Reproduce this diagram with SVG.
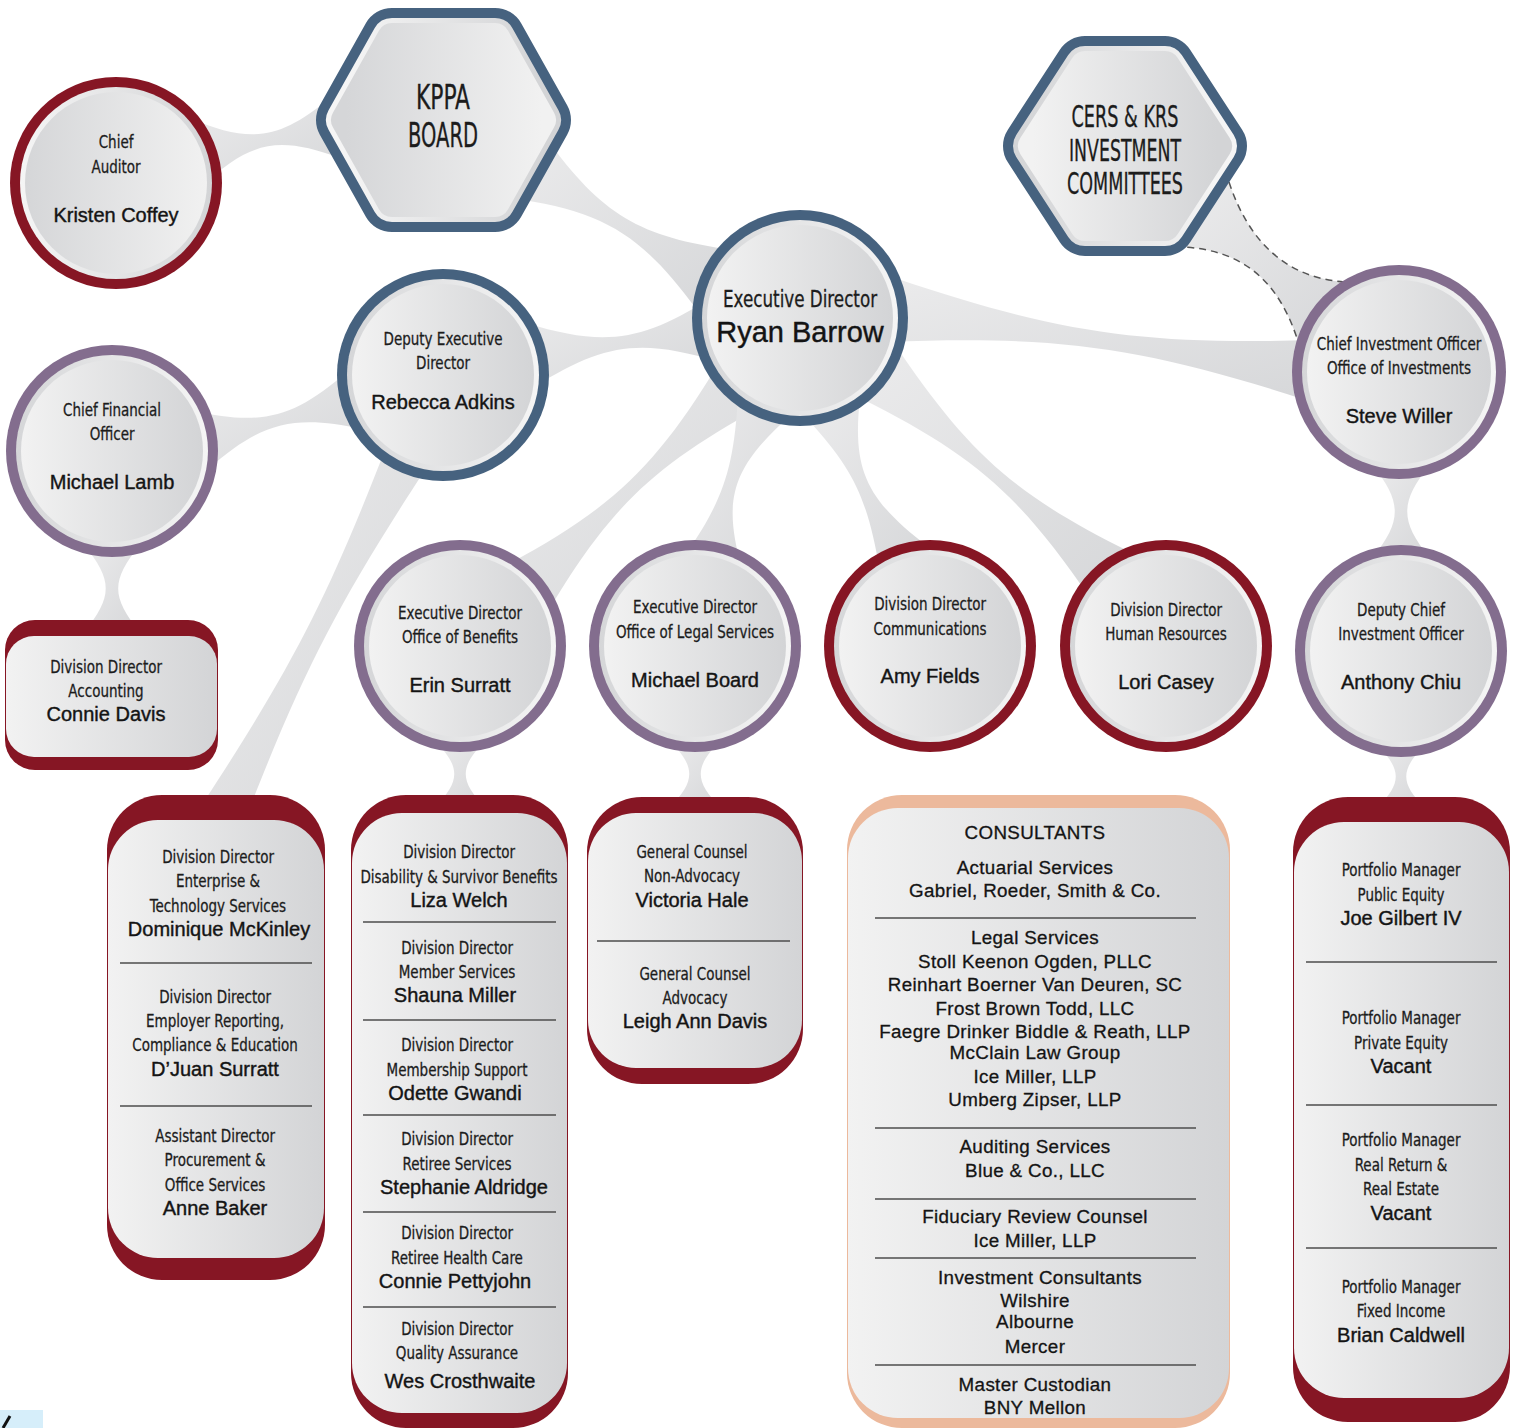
<svg xmlns="http://www.w3.org/2000/svg" width="1514" height="1428" viewBox="0 0 1514 1428">
<defs>
<linearGradient id="gFillA" x1="0" y1="0" x2="1" y2="0"><stop offset="0" stop-color="#f2f2f2"/><stop offset="1" stop-color="#d3d4d6"/></linearGradient>
<linearGradient id="gRimA" x1="0" y1="0" x2="1" y2="0"><stop offset="0" stop-color="#d5d6d8"/><stop offset="1" stop-color="#f5f5f5"/></linearGradient>
<linearGradient id="gFillB" x1="0" y1="0" x2="1" y2="0"><stop offset="0" stop-color="#d5d6d8"/><stop offset="1" stop-color="#f1f1f1"/></linearGradient>
<linearGradient id="gRimB" x1="0" y1="0" x2="1" y2="0"><stop offset="0" stop-color="#f5f5f5"/><stop offset="1" stop-color="#d3d4d6"/></linearGradient>
<linearGradient id="gConn" x1="0" y1="0" x2="1" y2="1"><stop offset="0" stop-color="#ebebec"/><stop offset="1" stop-color="#d6d7d9"/></linearGradient>
</defs>
<style>
.conn{fill:url(#gConn)}
.dash{fill:none;stroke:#555555;stroke-width:1.5;stroke-dasharray:7 5}
.blue{fill:#46627f}
.red{fill:#861624}
.purple{fill:#836d8e}
.peach{fill:#ecb99c}
.rimA{fill:url(#gRimA)}
.fillA{fill:url(#gFillA)}
.rimB{fill:url(#gRimB)}
.fillB{fill:url(#gFillB)}
.hexO{fill:#46627f;stroke:#46627f;stroke-width:60;stroke-linejoin:round}
.hexR{fill:url(#gRimB);stroke:url(#gRimB);stroke-width:40;stroke-linejoin:round}
.hexF{fill:url(#gFillB);stroke:url(#gFillB);stroke-width:30;stroke-linejoin:round}
.hexRA{fill:url(#gRimA);stroke:url(#gRimA);stroke-width:40;stroke-linejoin:round}
.hexFA{fill:url(#gFillA);stroke:url(#gFillA);stroke-width:30;stroke-linejoin:round}
.t{font-family:"Liberation Sans Narrow","DejaVu Sans Condensed","Roboto Condensed",sans-serif;font-stretch:condensed;font-size:18.5px;fill:#1c1c1c;stroke:#1c1c1c;stroke-width:0.3;text-anchor:middle;dominant-baseline:central;transform-box:fill-box;transform-origin:center;transform:scaleX(0.81)}
.big{font-size:23px}
.hx{font-size:34px;transform:none}
.hx2{font-size:30px;transform:none}
.n{font-family:"Liberation Sans",Arial,sans-serif;font-size:20px;fill:#141414;stroke:#141414;stroke-width:0.4;text-anchor:middle;dominant-baseline:central}
.nb{font-size:29px}
.c{font-family:"Liberation Sans",Arial,sans-serif;font-size:18.8px;letter-spacing:0.35px;fill:#141414;stroke:#141414;stroke-width:0.3;text-anchor:middle;dominant-baseline:central}
.sep{stroke:#4d4d4d;stroke-width:1.5}
</style>
<rect width="1514" height="1428" fill="#ffffff"/>

<g id="connectors">
<path class="conn" d="M189,118 C251,144 279,140 330,98 L340,158 C279,136 251,140 201,187 Z"/>
<path class="conn" d="M546,138 C602,215 639,237 733,250 L697,310 C641,234 604,211 510,198 Z"/>
<path class="conn" d="M526,323 C604,347 641,342 711,298 L719,362 C641,338 604,343 534,387 Z"/>
<path class="conn" d="M193,411 C263,426 294,418 348,371 L363,429 C293,414 262,422 208,469 Z"/>
<path class="conn" d="M84,545 C113,580 113,597 84,632 L140,632 C111,597 111,580 140,545 Z"/>
<path class="conn" d="M385,450 C328,597 292,667 205,800 L245,820 C302,673 338,603 425,470 Z"/>
<path class="conn" d="M719,363 C655,468 612,509 503,567 L547,613 C610,507 653,466 761,407 Z"/>
<path class="conn" d="M738,396 C734,467 724,498 688,551 L742,569 C722,498 732,467 792,414 Z"/>
<path class="conn" d="M810,422 C854,470 868,500 880,572 L930,548 C866,500 852,470 860,398 Z"/>
<path class="conn" d="M860,398 C973,454 1019,494 1090,598 L1130,552 C1017,496 971,456 900,352 Z"/>
<path class="conn" d="M895,278 C1058,333 1142,345 1314,340 L1306,400 C1142,347 1058,335 886,342 Z"/>
<path class="conn" d="M1229,182 C1248,240 1285,278 1345,282 L1300,348 C1280,278 1240,250 1183,247 Z"/>
<path class="dash" d="M1229,182 C1248,240 1285,278 1345,282"/>
<path class="dash" d="M1300,348 C1280,278 1240,250 1183,247"/>
<path class="conn" d="M1373,466 C1402,502 1402,521 1373,557 L1429,557 C1400,521 1400,502 1429,466 Z"/>
<path class="conn" d="M1377,745 C1402,770 1402,783 1377,808 L1425,808 C1400,783 1400,770 1425,745 Z"/>
<path class="conn" d="M434,740 C461,767 461,781 434,808 L486,808 C459,781 459,767 486,740 Z"/>
<path class="conn" d="M669,740 C696,767 696,781 669,808 L721,808 C694,781 694,767 721,740 Z"/>
</g>

<g id="node-chief-auditor" transform="translate(116,183)">
<circle r="106" class="red"/><circle r="96" class="rimB"/><circle r="91" class="fillB"/>
<text class="t" y="-42">Chief</text>
<text class="t" y="-17">Auditor</text>
<text class="n" y="32">Kristen Coffey</text>
</g>

<g id="node-kppa-board">
<polygon class="hexO" points="346,120 392,38 495,38 541,120 495,202 392,202"/>
<polygon class="hexR" points="346,120 392,38 495,38 541,120 495,202 392,202"/>
<polygon class="hexF" points="346,120 392,38 495,38 541,120 495,202 392,202"/>
<text class="t hx" x="443" y="97" textLength="54" lengthAdjust="spacingAndGlyphs">KPPA</text>
<text class="t hx" x="443" y="135" textLength="70" lengthAdjust="spacingAndGlyphs">BOARD</text>
</g>

<g id="node-cers-krs">
<polygon class="hexO" points="1033,146 1085,66 1165,66 1217,146 1165,226 1085,226"/>
<polygon class="hexRA" points="1033,146 1085,66 1165,66 1217,146 1165,226 1085,226"/>
<polygon class="hexFA" points="1033,146 1085,66 1165,66 1217,146 1165,226 1085,226"/>
<text class="t hx2" x="1125" y="116" textLength="107" lengthAdjust="spacingAndGlyphs">CERS &amp; KRS</text>
<text class="t hx2" x="1125" y="150" textLength="112" lengthAdjust="spacingAndGlyphs">INVESTMENT</text>
<text class="t hx2" x="1125" y="183" textLength="116" lengthAdjust="spacingAndGlyphs">COMMITTEES</text>
</g>

<g id="node-executive-director" transform="translate(800,318)">
<circle r="108" class="blue"/><circle r="98" class="rimA"/><circle r="93" class="fillA"/>
<text class="t big" y="-19">Executive Director</text>
<text class="n nb" y="14">Ryan Barrow</text>
</g>

<g id="node-cio" transform="translate(1399,372)">
<circle r="107" class="purple"/><circle r="97" class="rimA"/><circle r="92" class="fillA"/>
<text class="t" y="-29">Chief Investment Officer</text>
<text class="t" y="-5">Office of Investments</text>
<text class="n" y="44">Steve Willer</text>
</g>

<g id="node-deputy" transform="translate(443,375)">
<circle r="106" class="blue"/><circle r="96" class="rimA"/><circle r="91" class="fillA"/>
<text class="t" y="-37">Deputy Executive</text>
<text class="t" y="-13">Director</text>
<text class="n" y="27">Rebecca Adkins</text>
</g>

<g id="node-cfo" transform="translate(112,451)">
<circle r="106" class="purple"/><circle r="96" class="rimA"/><circle r="91" class="fillA"/>
<text class="t" y="-42">Chief Financial</text>
<text class="t" y="-18">Officer</text>
<text class="n" y="31">Michael Lamb</text>
</g>

<g id="node-accounting">
<rect x="5" y="620" width="213" height="150" rx="30" class="red"/>
<rect x="6" y="636" width="211" height="121" rx="28" class="fillA"/>
<text class="t" x="106" y="666">Division Director</text>
<text class="t" x="106" y="690">Accounting</text>
<text class="n" x="106" y="714">Connie Davis</text>
</g>

<g id="node-benefits" transform="translate(460,646)">
<circle r="106" class="purple"/><circle r="96" class="rimA"/><circle r="91" class="fillA"/>
<text class="t" y="-34">Executive Director</text>
<text class="t" y="-10">Office of Benefits</text>
<text class="n" y="39">Erin Surratt</text>
</g>

<g id="node-legal" transform="translate(695,646)">
<circle r="106" class="purple"/><circle r="96" class="rimA"/><circle r="91" class="fillA"/>
<text class="t" y="-40">Executive Director</text>
<text class="t" y="-15">Office of Legal Services</text>
<text class="n" y="34">Michael Board</text>
</g>

<g id="node-communications" transform="translate(930,646)">
<circle r="106" class="red"/><circle r="96" class="rimA"/><circle r="91" class="fillA"/>
<text class="t" y="-43">Division Director</text>
<text class="t" y="-18">Communications</text>
<text class="n" y="30">Amy Fields</text>
</g>

<g id="node-hr" transform="translate(1166,646)">
<circle r="106" class="red"/><circle r="96" class="rimA"/><circle r="91" class="fillA"/>
<text class="t" y="-37">Division Director</text>
<text class="t" y="-13">Human Resources</text>
<text class="n" y="36">Lori Casey</text>
</g>

<g id="node-deputy-cio" transform="translate(1401,651)">
<circle r="106" class="purple"/><circle r="96" class="rimA"/><circle r="91" class="fillA"/>
<text class="t" y="-42">Deputy Chief</text>
<text class="t" y="-18">Investment Officer</text>
<text class="n" y="31">Anthony Chiu</text>
</g>

<g id="node-operations-box">
<rect x="107" y="795" width="218" height="485" rx="55" class="red"/>
<rect x="108" y="820" width="216" height="438" rx="50" class="fillA"/>
<text class="t" x="218" y="856">Division Director</text>
<text class="t" x="218" y="880">Enterprise &amp;</text>
<text class="t" x="218" y="905">Technology Services</text>
<text class="n" x="219" y="929">Dominique McKinley</text>
<line class="sep" x1="120" y1="963" x2="312" y2="963"/>
<text class="t" x="215" y="996">Division Director</text>
<text class="t" x="215" y="1020">Employer Reporting,</text>
<text class="t" x="215" y="1044">Compliance &amp; Education</text>
<text class="n" x="215" y="1069">D’Juan Surratt</text>
<line class="sep" x1="120" y1="1106" x2="312" y2="1106"/>
<text class="t" x="215" y="1135">Assistant Director</text>
<text class="t" x="215" y="1159">Procurement &amp;</text>
<text class="t" x="215" y="1184">Office Services</text>
<text class="n" x="215" y="1208">Anne Baker</text>
</g>

<g id="node-benefits-box">
<rect x="351" y="795" width="217" height="633" rx="55" class="red"/>
<rect x="352" y="813" width="215" height="600" rx="50" class="fillA"/>
<text class="t" x="459" y="851">Division Director</text>
<text class="t" x="459" y="876">Disability &amp; Survivor Benefits</text>
<text class="n" x="459" y="900">Liza Welch</text>
<line class="sep" x1="363" y1="922" x2="556" y2="922"/>
<text class="t" x="457" y="947">Division Director</text>
<text class="t" x="457" y="971">Member Services</text>
<text class="n" x="455" y="995">Shauna Miller</text>
<line class="sep" x1="363" y1="1020" x2="556" y2="1020"/>
<text class="t" x="457" y="1044">Division Director</text>
<text class="t" x="457" y="1069">Membership Support</text>
<text class="n" x="455" y="1093">Odette Gwandi</text>
<line class="sep" x1="363" y1="1115" x2="556" y2="1115"/>
<text class="t" x="457" y="1138">Division Director</text>
<text class="t" x="457" y="1163">Retiree Services</text>
<text class="n" x="464" y="1187">Stephanie Aldridge</text>
<line class="sep" x1="363" y1="1212" x2="556" y2="1212"/>
<text class="t" x="457" y="1232">Division Director</text>
<text class="t" x="457" y="1257">Retiree Health Care</text>
<text class="n" x="455" y="1281">Connie Pettyjohn</text>
<line class="sep" x1="363" y1="1307" x2="556" y2="1307"/>
<text class="t" x="457" y="1328">Division Director</text>
<text class="t" x="457" y="1352">Quality Assurance</text>
<text class="n" x="460" y="1381">Wes Crosthwaite</text>
</g>

<g id="node-legal-box">
<rect x="587" y="797" width="216" height="287" rx="55" class="red"/>
<rect x="588" y="813" width="214" height="255" rx="48" class="fillA"/>
<text class="t" x="692" y="851">General Counsel</text>
<text class="t" x="692" y="875">Non-Advocacy</text>
<text class="n" x="692" y="900">Victoria Hale</text>
<line class="sep" x1="597" y1="941" x2="790" y2="941"/>
<text class="t" x="695" y="973">General Counsel</text>
<text class="t" x="695" y="997">Advocacy</text>
<text class="n" x="695" y="1021">Leigh Ann Davis</text>
</g>

<g id="node-consultants">
<rect x="847" y="795" width="383" height="633" rx="55" class="peach"/>
<rect x="848" y="808" width="381" height="610" rx="50" class="fillA"/>
<text class="c" x="1035" y="832">CONSULTANTS</text>
<text class="c" x="1035" y="867">Actuarial Services</text>
<text class="c" x="1035" y="890">Gabriel, Roeder, Smith &amp; Co.</text>
<line class="sep" x1="875" y1="918" x2="1196" y2="918"/>
<text class="c" x="1035" y="937">Legal Services</text>
<text class="c" x="1035" y="961">Stoll Keenon Ogden, PLLC</text>
<text class="c" x="1035" y="984">Reinhart Boerner Van Deuren, SC</text>
<text class="c" x="1035" y="1008">Frost Brown Todd, LLC</text>
<text class="c" x="1035" y="1031">Faegre Drinker Biddle &amp; Reath, LLP</text>
<text class="c" x="1035" y="1052">McClain Law Group</text>
<text class="c" x="1035" y="1076">Ice Miller, LLP</text>
<text class="c" x="1035" y="1099">Umberg Zipser, LLP</text>
<line class="sep" x1="875" y1="1128" x2="1196" y2="1128"/>
<text class="c" x="1035" y="1146">Auditing Services</text>
<text class="c" x="1035" y="1170">Blue &amp; Co., LLC</text>
<line class="sep" x1="875" y1="1199" x2="1196" y2="1199"/>
<text class="c" x="1035" y="1216">Fiduciary Review Counsel</text>
<text class="c" x="1035" y="1240">Ice Miller, LLP</text>
<line class="sep" x1="875" y1="1258" x2="1196" y2="1258"/>
<text class="c" x="1040" y="1277">Investment Consultants</text>
<text class="c" x="1035" y="1300">Wilshire</text>
<text class="c" x="1035" y="1321">Albourne</text>
<text class="c" x="1035" y="1346">Mercer</text>
<line class="sep" x1="875" y1="1365" x2="1196" y2="1365"/>
<text class="c" x="1035" y="1384">Master Custodian</text>
<text class="c" x="1035" y="1407">BNY Mellon</text>
</g>

<g id="node-investments-box">
<rect x="1293" y="797" width="217" height="625" rx="55" class="red"/>
<rect x="1294" y="822" width="215" height="576" rx="50" class="fillA"/>
<text class="t" x="1401" y="869">Portfolio Manager</text>
<text class="t" x="1401" y="894">Public Equity</text>
<text class="n" x="1401" y="918">Joe Gilbert IV</text>
<line class="sep" x1="1306" y1="962" x2="1497" y2="962"/>
<text class="t" x="1401" y="1017">Portfolio Manager</text>
<text class="t" x="1401" y="1042">Private Equity</text>
<text class="n" x="1401" y="1066">Vacant</text>
<line class="sep" x1="1306" y1="1105" x2="1497" y2="1105"/>
<text class="t" x="1401" y="1139">Portfolio Manager</text>
<text class="t" x="1401" y="1164">Real Return &amp;</text>
<text class="t" x="1401" y="1188">Real Estate</text>
<text class="n" x="1401" y="1213">Vacant</text>
<line class="sep" x1="1306" y1="1248" x2="1497" y2="1248"/>
<text class="t" x="1401" y="1286">Portfolio Manager</text>
<text class="t" x="1401" y="1310">Fixed Income</text>
<text class="n" x="1401" y="1335">Brian Caldwell</text>
</g>

<g id="corner-mark">
<rect x="0" y="1410" width="43" height="18" fill="#d6eefa"/>
<path d="M3,1428 L10,1416" stroke="#111" stroke-width="3" fill="none"/>
</g>
</svg>
